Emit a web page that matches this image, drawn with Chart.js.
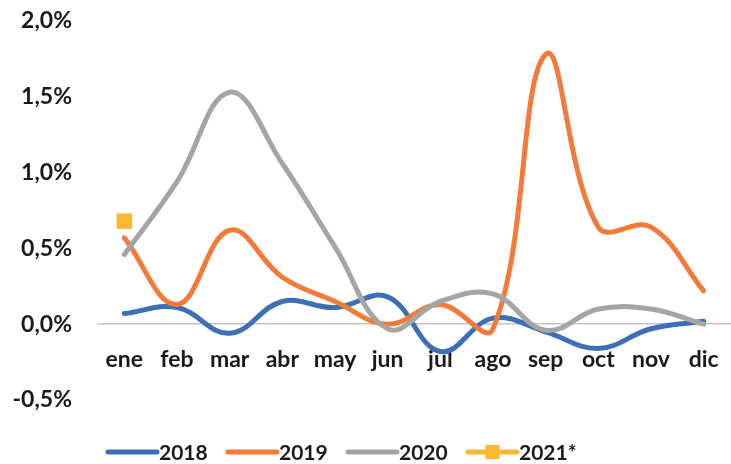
<!DOCTYPE html>
<html>
<head>
<meta charset="utf-8">
<script src="https://cdn.jsdelivr.net/npm/chart.js@4/dist/chart.umd.min.js"></script>
<style>
  html, body { margin: 0; padding: 0; background: #fff; overflow: hidden; }
  canvas { display: block; }
</style>
</head>
<body>
<canvas id="grafico" width="731" height="464"></canvas>
<script>
// datos (variacion mensual, %)
const meses = ["ene", "feb", "mar", "abr", "may", "jun", "jul", "ago", "sep", "oct", "nov", "dic"];
const serie2018 = [0.07, 0.11, -0.06, 0.15, 0.11, 0.18, -0.18, 0.04, -0.05, -0.16, -0.03, 0.02];
const serie2019 = [0.57, 0.13, 0.62, 0.31, 0.15, 0.0, 0.13, -0.03, 1.78, 0.64, 0.64, 0.22];
const serie2020 = [0.46, 0.94, 1.53, 1.06, 0.51, -0.03, 0.15, 0.2, -0.04, 0.1, 0.1, 0.0];
const serie2021 = [0.68, null, null, null, null, null, null, null, null, null, null, null];
const ticksY = [-0.5, 0, 0.5, 1.0, 1.5, 2.0];

const colores = ["#3D6FB6", "#F47A3A", "#A4A6A5", "#FDB833"];
const fuente = "Lato";

// leyenda dibujada a mano: linea + texto, con marcador cuadrado para 2021*
const leyenda = {
  id: "leyenda",
  afterDraw(chart) {
    const ctx = chart.ctx;
    const y = 452;
    ctx.save();
    ctx.font = "bold 21px " + fuente;
    ctx.textBaseline = "middle";
    ctx.textAlign = "left";
    chart.data.datasets.forEach((ds, i) => {
      const x = 108 + i * 120;
      ctx.strokeStyle = ds.borderColor;
      ctx.lineWidth = 5;
      ctx.lineCap = "round";
      ctx.beginPath();
      ctx.moveTo(x, y);
      ctx.lineTo(x + 49, y);
      ctx.stroke();
      if (ds.pointStyle === "rect") {
        ctx.fillStyle = ds.borderColor;
        ctx.fillRect(x + 24.5 - 7, y - 7, 14, 14);
      }
      ctx.fillStyle = "#1a1a1a";
      ctx.fillText(ds.label, x + 51, y + 1);
    });
    ctx.restore();
  },
};

const ctx = document.getElementById("grafico");
new Chart(ctx, {
  type: "line",
  data: {
    labels: meses,
    datasets: [
      { label: "2018", data: serie2018, borderColor: colores[0], order: 3 },
      { label: "2019", data: serie2019, borderColor: colores[1], order: 2 },
      { label: "2020", data: serie2020, borderColor: colores[2], order: 1 },
      {
        label: "2021*",
        data: serie2021,
        borderColor: colores[3],
        backgroundColor: colores[3],
        pointStyle: "rect",
        pointRadius: 11,
        pointBorderWidth: 0,
        order: 0,
      },
    ],
  },
  options: {
    responsive: false,
    animation: false,
    datasets: {
      line: {
        borderWidth: 5,
        tension: 0.4,
        pointRadius: 0,
        fill: false,
        borderCapStyle: "round",
      },
    },
    layout: { autoPadding: false, padding: { top: 21, left: 0, right: 1, bottom: 64 } },
    plugins: {
      legend: { display: false },
      tooltip: { enabled: false },
    },
    scales: {
      x: {
        position: { y: 0 },
        offset: true,
        afterFit: (scale) => {
          scale.paddingLeft = 0;
          scale.paddingRight = 0;
        },
        grid: { display: false, drawTicks: false },
        border: { display: true, color: "#C6C6C6", width: 1.5 },
        ticks: {
          padding: 22,
          color: "#1a1a1a",
          font: { family: fuente, size: 23, weight: "bold" },
        },
      },
      y: {
        min: -0.5,
        max: 2.0,
        afterBuildTicks: (scale) => {
          scale.ticks = ticksY.map((v) => ({ value: v }));
        },
        afterFit: (scale) => {
          scale.width = 98;
          scale.paddingTop = 0;
          scale.paddingBottom = 0;
        },
        grid: { display: false, drawTicks: false },
        border: { display: false },
        ticks: {
          padding: 26,
          color: "#1a1a1a",
          font: { family: fuente, size: 23, weight: "bold" },
          callback: (v) => v.toFixed(1).replace(".", ",") + "%",
        },
      },
    },
  },
  plugins: [leyenda],
});
</script>
</body>
</html>
